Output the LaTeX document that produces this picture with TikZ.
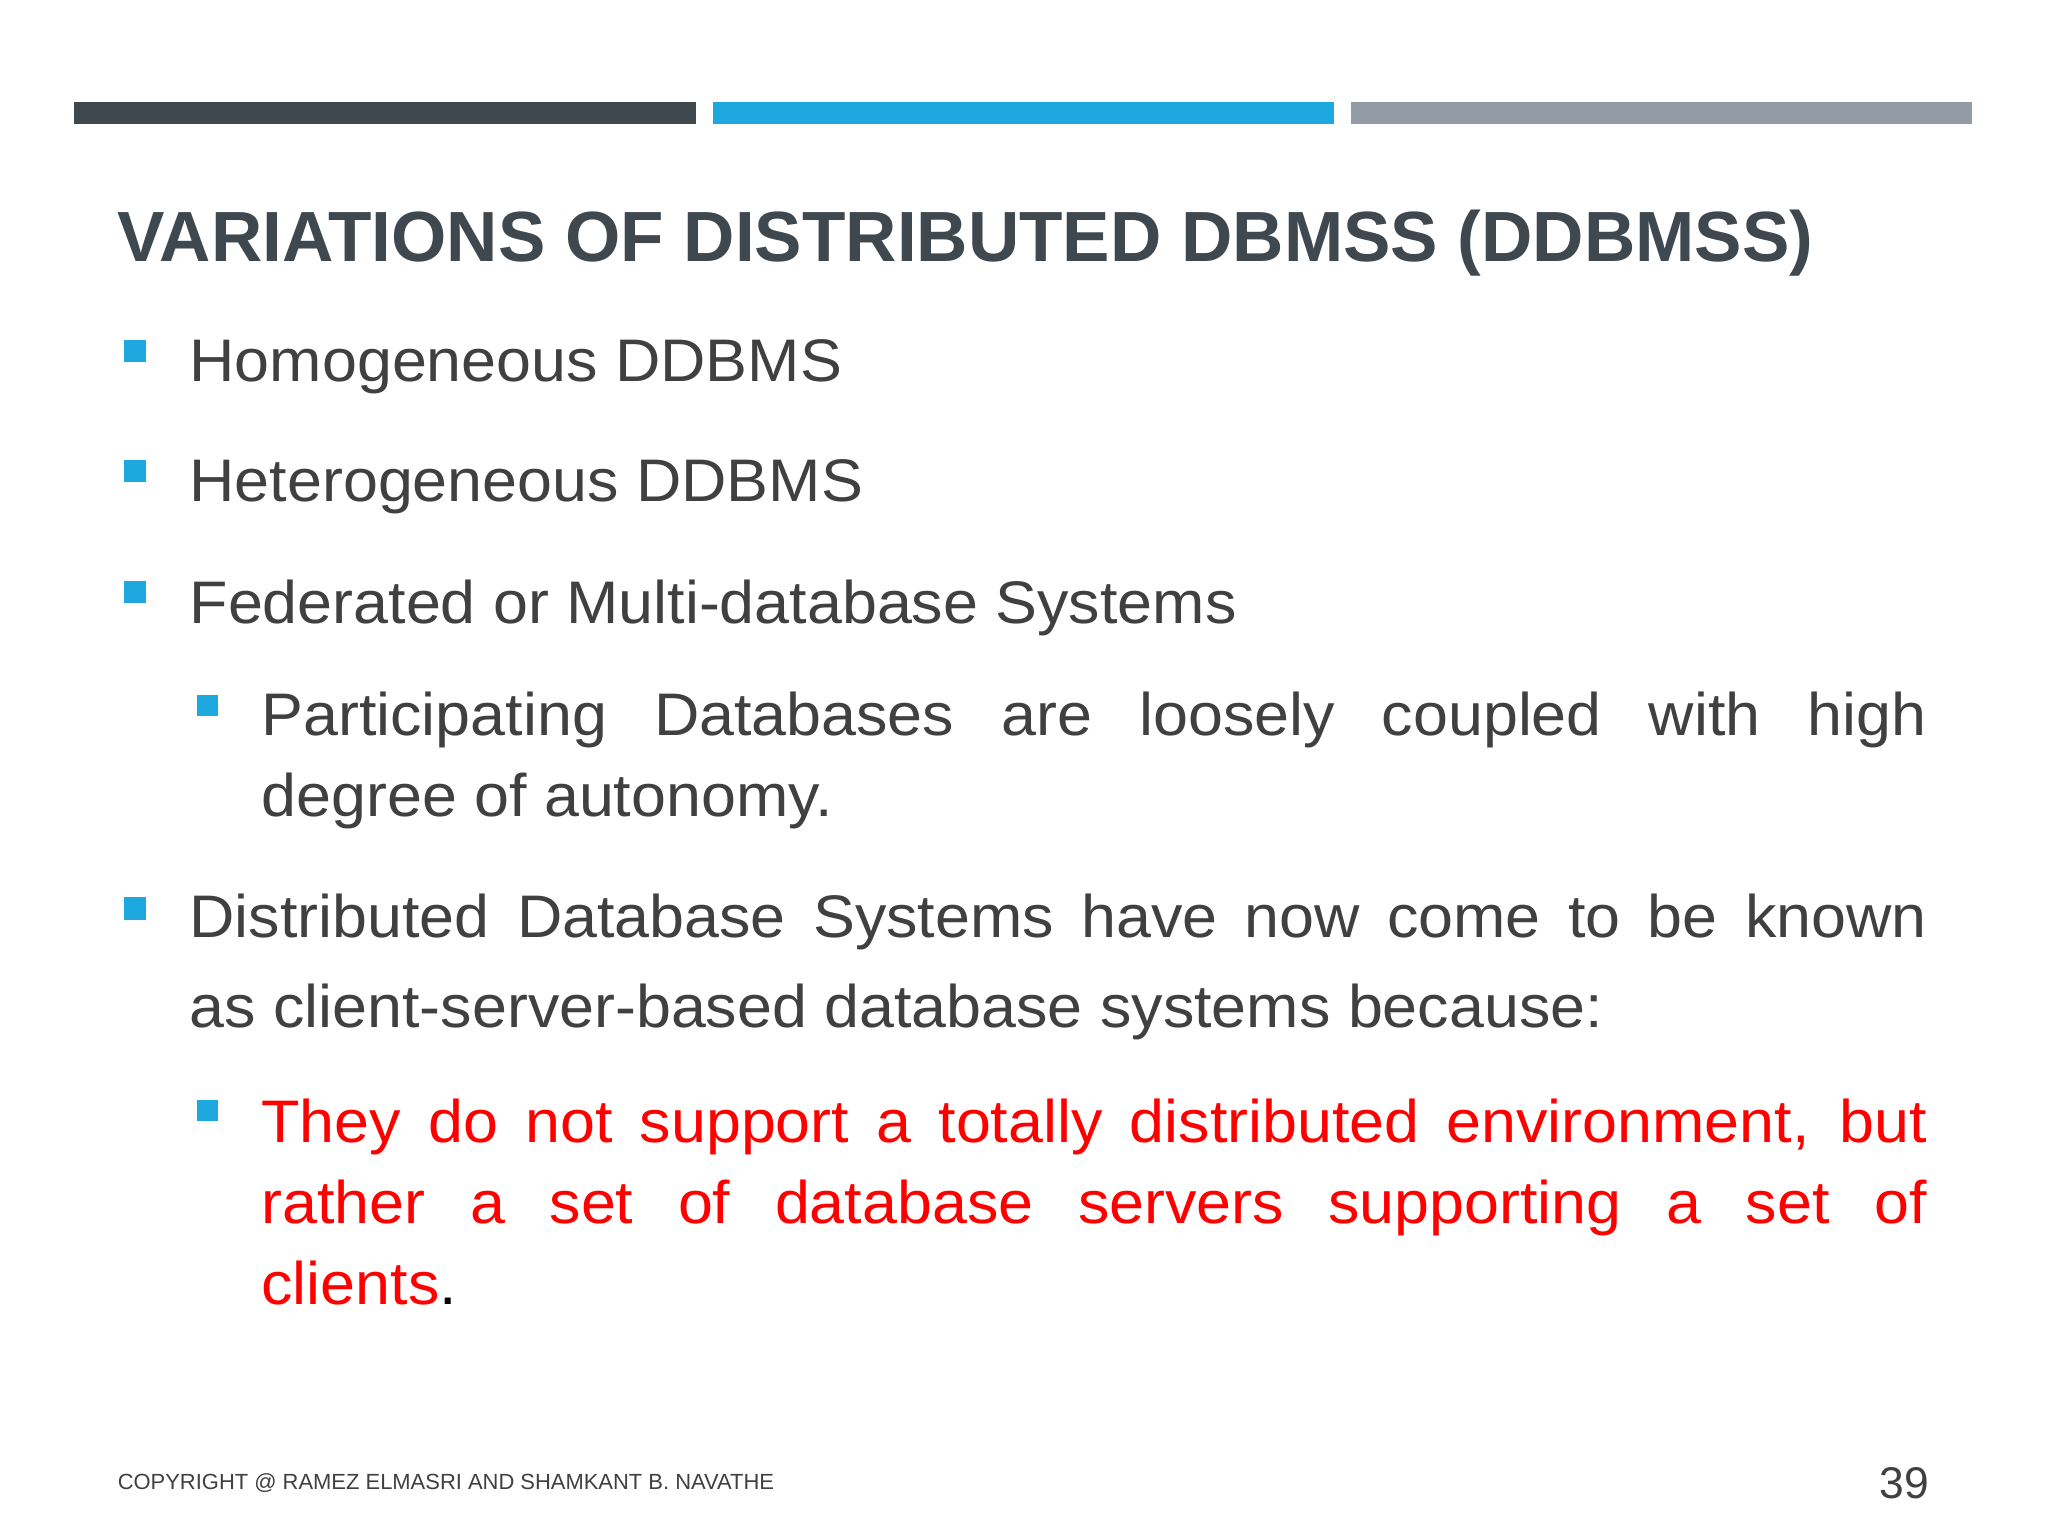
\documentclass[tikz,border=0pt]{standalone}
\usepackage{fontspec}
\setmainfont{Liberation Sans}
\newfontfamily\bodyfont[FakeStretch=1.045]{Liberation Sans}
\usetikzlibrary{positioning}
\definecolor{txt}{HTML}{404040}
\definecolor{bdark}{HTML}{3F474F}
\definecolor{bblue}{HTML}{1EA8E0}
\definecolor{bgray}{HTML}{939CA6}
\definecolor{bul}{HTML}{1EA8E0}
\tikzset{
 ln/.style={anchor=base west,inner sep=0pt,text=txt,font=\bodyfont\fontsize{46}{46}\selectfont},
 rl/.style={ln,text=red},
 sq/.style={fill=bul,draw=none}
}
\begin{document}
\begin{tikzpicture}[x=1pt,y=-1pt]
\useasboundingbox (0,0) rectangle (1568,1176);
\fill[white] (0,0) rectangle (1568,1176);
\fill[bdark] (57,78) rectangle (533,95);
\fill[bblue] (546,78) rectangle (1021,95);
\fill[bgray] (1034,78) rectangle (1510,95);
\node[anchor=base west,inner sep=0pt,text=bdark] (title) at (90,200)
 {\resizebox{1298pt}{!}{\fontsize{56}{56}\selectfont\bfseries VARIATIONS OF DISTRIBUTED DBMSS (DDBMSS)}};
% bullets
\foreach \y in {260,352,445,687} \fill[sq] (95,\y) rectangle (112,\y+17);
\foreach \y in {532,842} \fill[sq] (151,\y) rectangle (167,\y+16);
\node[ln] (l1) at (145,292) {Homogeneous DDBMS};
\node[ln] (l2) at (145,384) {Heterogeneous DDBMS};
\node[ln] (l3) at (145,477) {Federated or Multi-database Systems};
\node[ln] (l4) at (200,563) {\makebox[1275pt][s]{Participating Databases are loosely coupled with high}};
\node[ln] (l5) at (200,625) {degree of autonomy.};
\node[ln] (l6) at (145,718) {\makebox[1330pt][s]{Distributed Database Systems have now come to be known}};
\node[ln] (l7) at (145,787) {as client-server-based database systems because:};
\node[rl] (l8) at (200,875) {\makebox[1275pt][s]{They do not support a totally distributed environment, but}};
\node[rl] (l9) at (200,937) {\makebox[1275pt][s]{rather a set of database servers supporting a set of}};
\node[rl] (l10) at (200,999) {clients\textcolor{black}{.}};
\node[anchor=base west,inner sep=0pt,text=txt,font=\fontsize{16.8}{18}\selectfont] (copy) at (90,1140) {COPYRIGHT @ RAMEZ ELMASRI AND SHAMKANT B. NAVATHE};
\node[anchor=base east,inner sep=0pt,text=txt,font=\fontsize{34}{34}\selectfont] (pg) at (1477,1147) {39};
\end{tikzpicture}
\end{document}
